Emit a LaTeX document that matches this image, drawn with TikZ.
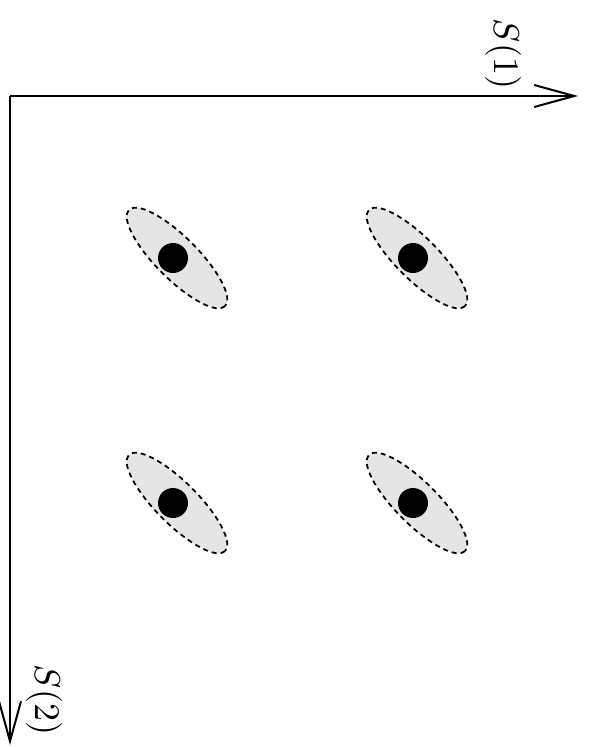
\documentclass[tikz,border=0pt]{standalone}
\usetikzlibrary{arrows.meta}
\begin{document}
\begin{tikzpicture}[x=1pt,y=-1pt,
  axis/.style={line width=2pt,-{Straight Barb[length=40pt,width=22pt,line width=2pt]}},
  cluster/.style={fill=black!10,draw=black,line width=1.8pt,dash pattern=on 5pt off 4pt},
  point/.style={circle,fill=black,inner sep=0pt,minimum size=30pt},
  axlabel/.style={scale=3.6,rotate=-90,inner sep=0pt}]
\useasboundingbox (0,0) rectangle (589,747);
% axes
\coordinate (o) at (10,96);
\coordinate (e1) at (578,96);
\coordinate (e2) at (10,745);
\draw[axis] (o) -- (e1);
\draw[axis] (o) -- (e2);
\node[axlabel] (l1) at (503,54) {$S(1)$};
\node[axlabel] (l2) at (44,700) {$S(2)$};
% clusters with their centres
\foreach \n/\cx/\cy in {a/177/258, b/417/258, c/177/503, d/417/503}{
  \draw[cluster,rotate around={-45:(\cx,\cy)}] (\cx,\cy) ellipse [x radius=68, y radius=21];
  \node[point] (\n) at (\cx-4,\cy) {};
}
\end{tikzpicture}
\end{document}
